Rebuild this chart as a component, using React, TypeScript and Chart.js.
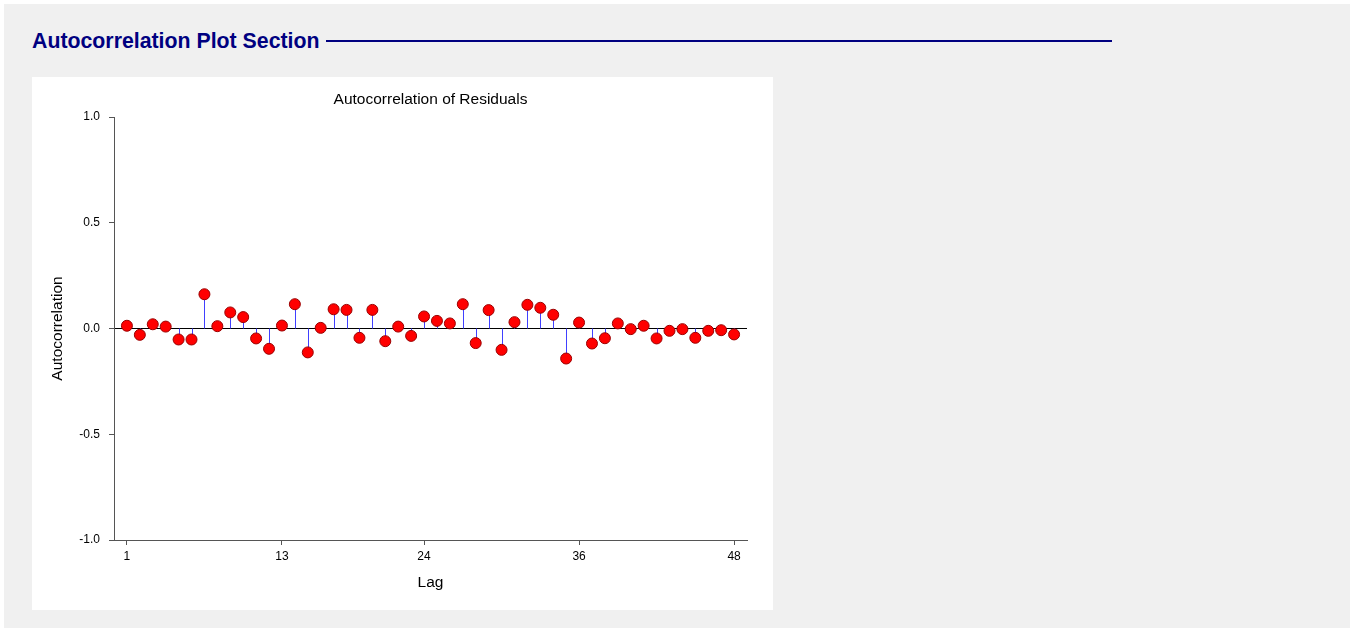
import React, { useEffect, useRef } from "react";
import { Chart, registerables } from "chart.js";

Chart.register(...registerables);

const sectionTitle = "Autocorrelation Plot Section";
const chartTitle = "Autocorrelation of Residuals";
const xAxisTitle = "Lag";
const yAxisTitle = "Autocorrelation";

const lags = [
  1, 2, 3, 4, 5, 6, 7, 8, 9, 10, 11, 12, 13, 14, 15, 16,
  17, 18, 19, 20, 21, 22, 23, 24, 25, 26, 27, 28, 29, 30, 31, 32,
  33, 34, 35, 36, 37, 38, 39, 40, 41, 42, 43, 44, 45, 46, 47, 48,
];

const acf = [
  0.013, -0.030, 0.020, 0.009, -0.052, -0.052, 0.162, 0.011,
  0.076, 0.054, -0.047, -0.096, 0.014, 0.115, -0.113, 0.003,
  0.091, 0.088, -0.044, 0.088, -0.060, 0.009, -0.035, 0.057,
  0.036, 0.024, 0.115, -0.069, 0.087, -0.101, 0.030, 0.112,
  0.098, 0.065, -0.142, 0.028, -0.071, -0.046, 0.024, -0.003,
  0.013, -0.047, -0.011, -0.003, -0.044, -0.011, -0.008, -0.028,
];

const xTickValues = [1, 13, 24, 36, 48];
const yTickValues = [-1.0, -0.5, 0.0, 0.5, 1.0];

const FONT = "'Liberation Sans', Arial, sans-serif";

const stemPlugin = {
  id: "stems",
  beforeDatasetsDraw(chart: any) {
    const { ctx } = chart;
    const x = chart.scales.x;
    const y = chart.scales.y;
    const y0 = y.getPixelForValue(0);
    ctx.save();
    ctx.strokeStyle = "#4040ff";
    ctx.lineWidth = 1;
    lags.forEach((lag, i) => {
      const px = Math.round(x.getPixelForValue(lag)) + 0.5;
      ctx.beginPath();
      ctx.moveTo(px, y0);
      ctx.lineTo(px, y.getPixelForValue(acf[i]));
      ctx.stroke();
    });
    ctx.restore();
  },
};

const areaTitlePlugin = {
  id: "areaTitle",
  afterDraw(chart: any) {
    const { ctx, chartArea } = chart;
    ctx.save();
    ctx.fillStyle = "#000";
    ctx.font = "15.5px " + FONT;
    ctx.textAlign = "center";
    ctx.textBaseline = "middle";
    ctx.fillText(chartTitle, (chartArea.left + chartArea.right) / 2, 23);
    ctx.restore();
  },
};

function AcfChart() {
  const ref = useRef<HTMLCanvasElement | null>(null);
  useEffect(() => {
    if (!ref.current) return;
    const chart = new Chart(ref.current, {
      type: "scatter",
      data: {
        datasets: [
          {
            data: lags.map((l, i) => ({ x: l, y: acf[i] })),
            pointRadius: 5.5,
            pointHoverRadius: 5.5,
            pointBackgroundColor: "#ff0000",
            pointBorderColor: "#9a0000",
            pointBorderWidth: 1,
            showLine: false,
          },
        ],
      },
      options: {
        responsive: false,
        animation: false,
        layout: { padding: { left: 0, top: 40, right: 26, bottom: 0 } },
        plugins: {
          legend: { display: false },
          tooltip: { enabled: false },
          title: { display: false },
        },
        scales: {
          x: {
            type: "linear",
            min: 0,
            max: 49,
            afterBuildTicks: (s: any) => {
              s.ticks = xTickValues.map((v) => ({ value: v }));
            },
            afterFit: (s: any) => {
              s.height = 70;
            },
            ticks: {
              color: "#000",
              font: { family: FONT, size: 12 },
              padding: 4,
              autoSkip: false,
              maxRotation: 0,
              callback: (v: any) => String(v),
            },
            grid: {
              drawOnChartArea: false,
              tickLength: 5,
              tickColor: "#555",
            },
            border: { color: "#555" },
            title: {
              display: true,
              text: xAxisTitle,
              color: "#000",
              font: { family: FONT, size: 15.5 },
              padding: { top: 0, bottom: 18 },
            },
          },
          y: {
            type: "linear",
            min: -1,
            max: 1,
            afterBuildTicks: (s: any) => {
              s.ticks = yTickValues.map((v) => ({ value: v }));
            },
            afterFit: (s: any) => {
              s.width = 82;
            },
            ticks: {
              color: "#000",
              font: { family: FONT, size: 12 },
              padding: 9,
              callback: (v: any) => Number(v).toFixed(1),
            },
            grid: {
              tickLength: 5,
              tickColor: "#555",
              color: (c: any) => (c.tick && c.tick.value === 0 ? "#000" : "rgba(0,0,0,0)"),
            },
            border: { color: "#555" },
            title: {
              display: true,
              text: yAxisTitle,
              color: "#000",
              font: { family: FONT, size: 15.5 },
              padding: { top: 16, bottom: 0 },
            },
          },
        },
      },
      plugins: [stemPlugin, areaTitlePlugin],
    } as any);
    return () => chart.destroy();
  }, []);
  return <canvas ref={ref} width={741} height={533} style={{ display: "block" }} />;
}

export default function App() {
  return (
    <div>
      <div
        style={{
          position: "absolute",
          left: 4,
          top: 4,
          width: 1346,
          height: 624,
          background: "#f0f0f0",
        }}
      />
      <div
        style={{
          position: "absolute",
          left: 32,
          top: 29,
          fontFamily: FONT,
          fontWeight: "bold",
          fontSize: 21.3,
          lineHeight: "24px",
          color: "#000080",
          whiteSpace: "nowrap",
        }}
      >
        {sectionTitle}
      </div>
      <div
        style={{
          position: "absolute",
          left: 326,
          top: 40,
          width: 786,
          height: 2,
          background: "#000080",
        }}
      />
      <div
        style={{
          position: "absolute",
          left: 32,
          top: 77,
          width: 741,
          height: 533,
          background: "#ffffff",
        }}
      >
        <AcfChart />
      </div>
    </div>
  );
}
